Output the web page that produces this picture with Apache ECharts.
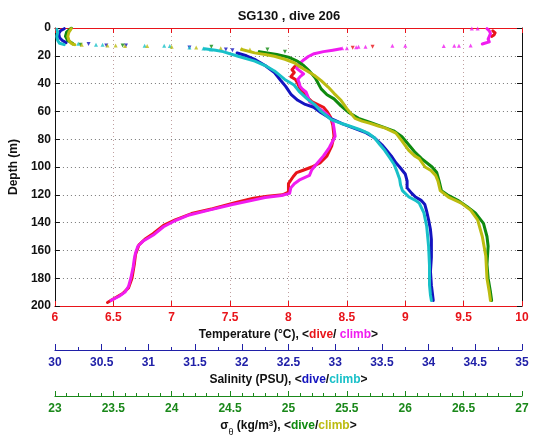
<!DOCTYPE html>
<html>
<head>
<meta charset="utf-8">
<script src="https://cdn.jsdelivr.net/npm/echarts@6/dist/echarts.min.js"></script>
<style>
html,body{margin:0;padding:0;background:#fff;}
#chart{width:535px;height:442px;}
</style>
</head>
<body>
<div id="chart"></div>
<script>
// ---------- data: [value, depth(m)] ----------
const titleText = 'SG130 , dive 206';
const tempRange = [6, 10];
const salRange = [30, 35];
const sigRange = [23, 27];
const depthRange = [0, 200];

// Temperature dive (red)
const tempDiveSurface = [[9.75,2],[9.77,3.5],[9.76,5],[9.74,6]];
const tempDive = [[8.1,26],[8.05,28],[8.03,30],[8.05,32],[8.02,35],[8.06,37],[8.08,40],[8.1,44],[8.14,48],[8.2,53],[8.3,57],[8.33,60],[8.36,64],[8.38,70],[8.39,78],[8.37,85],[8.33,92],[8.27,97],[8.2,100],[8.12,102.5],[8.07,104],[8.04,107],[8.0,112],[8.0,118],[7.95,120],[7.82,121],[7.7,122.5],[7.55,125.5],[7.35,130],[7.17,133.5],[7.03,138],[6.93,142],[6.84,148],[6.77,152],[6.72,156],[6.69,163],[6.68,170],[6.66,180],[6.63,187],[6.58,191],[6.5,195],[6.45,197.5]];
const tempDiveSparse = [[8.72,13.4],[8.55,14.2]];
// Temperature climb (magenta)
const tempClimbSurface = [[9.70,0.5],[9.72,2],[9.73,4],[9.72,6],[9.71,8],[9.72,10],[9.68,11],[9.66,11.5]];
const tempClimb = [[8.45,15],[8.38,16],[8.3,17],[8.22,18.5],[8.17,20.5],[8.13,23],[8.09,26],[8.07,29],[8.1,31],[8.13,33],[8.1,35],[8.08,37],[8.09,39],[8.1,42],[8.12,44],[8.15,46],[8.17,50],[8.18,53],[8.25,57],[8.33,62],[8.38,67],[8.39,72],[8.4,78],[8.35,86],[8.3,92],[8.25,97],[8.2,102],[8.18,106],[8.1,109],[8.05,112],[8.02,115],[8.01,119],[7.94,120.5],[7.8,122],[7.69,124],[7.52,127],[7.32,131],[7.15,134.5],[7.02,139],[6.93,143],[6.85,148.5],[6.76,153],[6.71,157],[6.69,162],[6.68,166],[6.67,172],[6.65,180],[6.63,186],[6.6,190],[6.55,193],[6.48,196]];
const tempClimbSparse = [[9.57,0.3],[9.62,0.3],[9.56,12.5],[9.46,12.7],[9.42,12.7],[9.33,12.9],[9.0,12.7],[8.89,12.7],[8.66,13.5],[8.6,13.5],[8.58,13.8],[8.5,14.5],[8.46,14.6]];

// Salinity dive (blue)
const salDiveSurface = [[30.1,0.5],[30.06,2],[30.04,4],[30.05,7],[30.08,9],[30.12,10.5]];
const salDive = [[31.95,18],[32.05,20],[32.15,23],[32.25,27],[32.35,32],[32.42,38],[32.47,42],[32.49,44],[32.53,48],[32.6,52],[32.68,55],[32.77,57],[32.85,61],[32.95,65],[33.08,69],[33.2,72],[33.32,75],[33.42,79],[33.5,84],[33.55,88],[33.6,92],[33.65,97],[33.69,100],[33.75,105],[33.77,110],[33.77,115],[33.82,119],[33.86,121.6],[33.92,124],[33.96,127],[33.98,132],[34.0,138],[34.02,145],[34.03,152],[34.03,165],[34.02,175],[34.03,185],[34.05,196]];
const salDiveSparse = [[30.36,11.5],[30.55,12.5],[30.76,12.5],[31.44,14],[31.83,15.5],[31.9,16]];
// Salinity climb (cyan)
const salClimbSurface = [[30.02,1],[30.03,3],[30.02,6],[30.03,9],[30.05,11],[30.1,12]];
const salClimb = [[31.6,15],[31.72,16],[31.8,17],[31.96,20.3],[32.14,23.8],[32.25,27],[32.35,30.9],[32.46,37],[32.56,41],[32.62,46],[32.7,51],[32.78,55],[32.85,60],[32.96,66],[33.06,68.5],[33.16,70.7],[33.26,73],[33.35,75.6],[33.42,79],[33.48,84],[33.53,88],[33.58,93],[33.63,98],[33.66,103],[33.69,108.6],[33.7,113],[33.72,117],[33.79,121.6],[33.86,124],[33.9,126],[33.95,133],[33.98,142.8],[34.0,157],[34.01,171],[34.01,185],[34.02,192],[34.03,196]];
const salClimbSparse = [[30.25,11.3],[30.44,12],[30.51,12],[30.96,12.7],[31.17,12.7],[31.23,13],[31.44,14.1],[31.59,14.8],[31.67,15.5]];

// Sigma-theta dive (green)
const sigDiveSurface = [[23.14,0],[23.1,3],[23.09,6],[23.11,9],[23.15,11]];
const sigDive = [[24.75,17],[24.9,19],[25.0,21],[25.08,24],[25.13,27],[25.18,31],[25.23,36],[25.28,43.8],[25.33,48],[25.39,51],[25.45,56],[25.52,61],[25.6,65],[25.7,68],[25.8,71],[25.9,74],[25.97,78],[26.03,84],[26.08,89],[26.14,94],[26.2,98],[26.23,100],[26.27,104],[26.29,110],[26.31,117],[26.36,120],[26.45,124],[26.53,128.6],[26.6,133],[26.67,140.6],[26.7,150],[26.71,157],[26.7,170],[26.71,180],[26.73,190],[26.74,196]];
const sigDiveSparse = [[23.22,12],[23.58,12.5],[24.34,13.5],[24.82,15.5],[24.97,17]];
// Sigma-theta climb (olive)
const sigClimbSurface = [[23.14,0.5],[23.12,3],[23.11,6],[23.12,9],[23.14,11],[23.17,12]];
const sigClimb = [[24.6,15.5],[24.71,17.9],[24.8,19],[24.88,20.3],[24.97,22.5],[25.05,25],[25.1,28],[25.16,30.9],[25.22,34],[25.28,37.9],[25.34,42.5],[25.39,47],[25.45,52],[25.5,58],[25.57,65],[25.63,67],[25.7,68.6],[25.77,70.5],[25.83,72],[25.92,75.6],[25.97,81],[26.03,88],[26.08,92],[26.12,94],[26.17,100],[26.22,102.5],[26.26,106],[26.28,110],[26.3,117],[26.37,121.6],[26.43,124],[26.48,126],[26.56,131],[26.62,138],[26.66,150],[26.69,164],[26.7,180],[26.72,190],[26.73,196]];
const sigClimbSparse = [[23.16,11.5],[23.23,12],[23.45,12.5],[23.52,12.5],[23.6,13],[23.79,13],[24.0,13.5],[24.21,14],[24.42,14.5],[24.6,15],[24.67,15.5]];

// ---------- colours ----------
const C = {
  red:'#e8141a', magenta:'#f01cf0', blue:'#1414c0', cyan:'#18c0c8',
  green:'#0f8a0f', olive:'#bcbc10',
  redTxt:'#e8141a', blueTxt:'#2020a8', greenTxt:'#1a881a'
};
const FONT = 'Liberation Sans, Arial, Helvetica, sans-serif';

function lineS(data, color, xi, width){
  return {type:'line', data:data, xAxisIndex:xi, yAxisIndex:0, showSymbol:false,
    lineStyle:{color:color, width:width, join:'round', cap:'round'}, itemStyle:{color:color},
    silent:true, animation:false, clip:true};
}
function scatS(data, color, xi, rot){
  return {type:'scatter', data:data, xAxisIndex:xi, yAxisIndex:0, symbol:'triangle',
    symbolSize:4, symbolRotate:rot, itemStyle:{color:color}, silent:true, animation:false};
}

const chart = echarts.init(document.getElementById('chart'), null, {renderer:'canvas'});
const lbl = {fontFamily:FONT, fontWeight:'bold', fontSize:12};
const option = {
  backgroundColor:'#fff',
  animation:false,
  title:{text:titleText, left:284, top:5, textAlign:'center',
    textStyle:{fontFamily:FONT, fontWeight:'bold', fontSize:13, color:'#111'}},
  grid:{left:46, top:28, width:476, height:283, containLabel:false},
  xAxis:[
    {type:'value', position:'bottom', min:tempRange[0], max:tempRange[1], interval:0.5,
      axisLine:{show:true, onZero:false, lineStyle:{color:C.red, width:1}},
      axisTick:{show:true, inside:true, length:5, lineStyle:{color:C.red}},
      axisLabel:Object.assign({color:C.redTxt, margin:6}, lbl),
      splitLine:{show:true, lineStyle:{color:'#c0a0a0', type:[1,3], width:1}},
      name:'{k|Temperature (°C), <}{r|dive}{k|/ }{m|climb}{k|>}',
      nameLocation:'middle', nameGap:22,
      nameTextStyle:{rich:{
        k:Object.assign({color:'#111'}, lbl),
        r:Object.assign({color:C.red}, lbl),
        m:Object.assign({color:C.magenta}, lbl)}}
    },
    {type:'value', position:'top', min:tempRange[0], max:tempRange[1], interval:0.5,
      axisLine:{show:true, onZero:false, lineStyle:{color:C.red}},
      axisTick:{show:true, inside:true, length:5, lineStyle:{color:C.red}},
      axisLabel:{show:false}, splitLine:{show:false}},
    {type:'value', position:'bottom', offset:44, min:salRange[0], max:salRange[1], interval:0.5,
      axisLine:{show:true, onZero:false, lineStyle:{color:C.blueTxt}},
      axisTick:{show:true, inside:true, length:6, lineStyle:{color:C.blueTxt}},
      minorTick:{show:true, splitNumber:2, length:3, lineStyle:{color:C.blueTxt}},
      axisLabel:Object.assign({color:C.blueTxt, margin:7}, lbl),
      splitLine:{show:false},
      name:'{k|Salinity (PSU), <}{b|dive}{k|/}{c|climb}{k|>}',
      nameLocation:'middle', nameGap:24,
      nameTextStyle:{rich:{
        k:Object.assign({color:'#111'}, lbl),
        b:Object.assign({color:C.blue}, lbl),
        c:Object.assign({color:C.cyan}, lbl)}}
    },
    {type:'value', position:'bottom', offset:90, min:sigRange[0], max:sigRange[1], interval:0.5,
      axisLine:{show:true, onZero:false, lineStyle:{color:C.greenTxt}},
      axisTick:{show:true, inside:true, length:5, lineStyle:{color:C.greenTxt}},
      minorTick:{show:true, splitNumber:5, length:3, lineStyle:{color:C.greenTxt}},
      axisLabel:Object.assign({color:C.greenTxt, margin:7}, lbl),
      splitLine:{show:false},
      name:'{k|σ}{sub|θ}{k| (kg/m}{sup|3}{k|), <}{g|dive}{k|/}{y|climb}{k|>}',
      nameLocation:'middle', nameGap:24,
      nameTextStyle:{rich:{
        k:Object.assign({color:'#111', lineHeight:14, verticalAlign:'top'}, lbl),
        sub:{color:'#111', fontFamily:FONT, fontSize:9, lineHeight:9, padding:[8,0,0,0], verticalAlign:'top'},
        sup:{color:'#111', fontFamily:FONT, fontWeight:'bold', fontSize:8, lineHeight:8, verticalAlign:'top'},
        g:Object.assign({color:C.green, lineHeight:14, verticalAlign:'top'}, lbl),
        y:Object.assign({color:C.olive, lineHeight:14, verticalAlign:'top'}, lbl)}}
    }
  ],
  yAxis:[
    {type:'value', inverse:true, min:depthRange[0], max:depthRange[1], interval:20, position:'left',
      axisLine:{show:true, onZero:false, lineStyle:{color:'#111'}},
      axisTick:{show:true, inside:true, length:5, lineStyle:{color:'#111'}},
      axisLabel:Object.assign({color:'#111', margin:4}, lbl),
      splitLine:{show:true, lineStyle:{color:'#777', type:[1,3], width:1}},
      name:'Depth (m)', nameLocation:'middle', nameRotate:90, nameGap:31,
      nameTextStyle:Object.assign({color:'#111'}, lbl)},
    {type:'value', inverse:true, min:depthRange[0], max:depthRange[1], interval:20, position:'right',
      axisLine:{show:true, onZero:false, lineStyle:{color:'#111'}},
      axisTick:{show:true, inside:true, length:5, lineStyle:{color:'#111'}},
      axisLabel:{show:false}, splitLine:{show:false}}
  ],
  series:[
    lineS(tempDiveSurface, C.red, 0, 3), lineS(tempDive, C.red, 0, 3), scatS(tempDiveSparse, C.red, 0, 180),
    lineS(tempClimbSurface, C.magenta, 0, 3), lineS(tempClimb, C.magenta, 0, 3), scatS(tempClimbSparse, C.magenta, 0, 0),
    lineS(salDiveSurface, C.blue, 2, 3), lineS(salDive, C.blue, 2, 3), scatS(salDiveSparse, C.blue, 2, 180),
    lineS(salClimbSurface, C.cyan, 2, 3), lineS(salClimb, C.cyan, 2, 3), scatS(salClimbSparse, C.cyan, 2, 0),
    lineS(sigDiveSurface, C.green, 3, 3), lineS(sigDive, C.green, 3, 3), scatS(sigDiveSparse, C.green, 3, 180),
    lineS(sigClimbSurface, C.olive, 3, 3), lineS(sigClimb, C.olive, 3, 3), scatS(sigClimbSparse, C.olive, 3, 0)
  ]
};
chart.setOption(option);
</script>
</body>
</html>
